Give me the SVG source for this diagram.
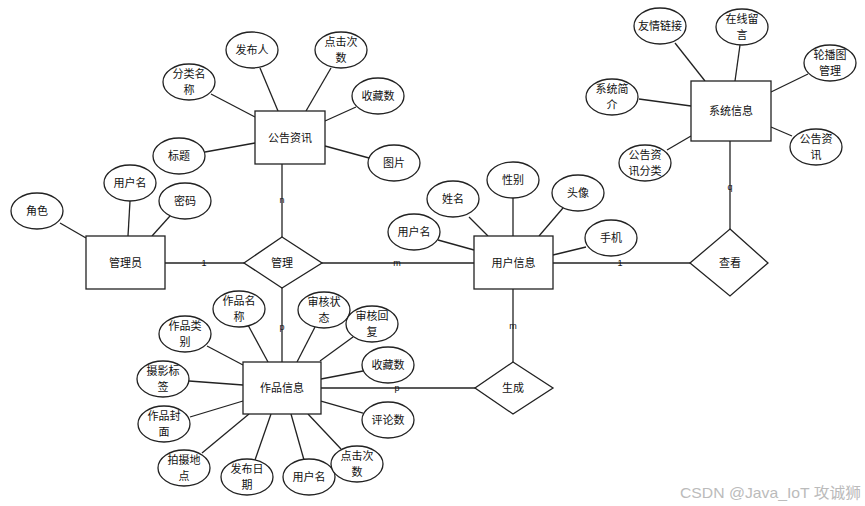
<svg xmlns="http://www.w3.org/2000/svg" width="865" height="506" viewBox="0 0 865 506">
<style>
.s{fill:#fff;stroke:#222;stroke-width:1.3}
.l{stroke:#222;stroke-width:1.3;fill:none}
text{font-family:"Liberation Sans","Noto Sans CJK SC",sans-serif;font-size:11px;fill:#111;text-anchor:middle;dominant-baseline:central}
.c{font-size:9px}
.w{font-size:15px;fill:#bbb;text-anchor:start}
</style>
<rect width="865" height="506" fill="#fff"/>
<g id="connectors">
<line class="l" x1="260" y1="68" x2="278" y2="111"/>
<line class="l" x1="331" y1="68" x2="306" y2="111"/>
<line class="l" x1="211" y1="94" x2="255" y2="117"/>
<line class="l" x1="356" y1="107" x2="325" y2="121"/>
<line class="l" x1="205" y1="152" x2="255" y2="143"/>
<line class="l" x1="325" y1="146" x2="369" y2="158"/>
<line class="l" x1="282" y1="164" x2="282" y2="238"/>
<line class="l" x1="60" y1="223" x2="86" y2="238"/>
<line class="l" x1="130" y1="201" x2="128" y2="236"/>
<line class="l" x1="170" y1="216" x2="152" y2="236"/>
<line class="l" x1="165" y1="263" x2="244" y2="263"/>
<line class="l" x1="322" y1="263" x2="474" y2="263"/>
<line class="l" x1="282" y1="288" x2="282" y2="362"/>
<line class="l" x1="248" y1="325" x2="268" y2="362"/>
<line class="l" x1="315" y1="327" x2="297" y2="362"/>
<line class="l" x1="353" y1="337" x2="320" y2="361"/>
<line class="l" x1="207" y1="346" x2="243" y2="365"/>
<line class="l" x1="363" y1="371" x2="321" y2="379"/>
<line class="l" x1="189" y1="381" x2="243" y2="385"/>
<line class="l" x1="363" y1="413" x2="321" y2="401"/>
<line class="l" x1="190" y1="417" x2="243" y2="401"/>
<line class="l" x1="202" y1="453" x2="249" y2="414"/>
<line class="l" x1="255" y1="460" x2="271" y2="414"/>
<line class="l" x1="304" y1="460" x2="291" y2="414"/>
<line class="l" x1="341" y1="449" x2="308" y2="414"/>
<line class="l" x1="321" y1="388" x2="475" y2="388"/>
<line class="l" x1="469" y1="217" x2="488" y2="236"/>
<line class="l" x1="513" y1="198" x2="513" y2="236"/>
<line class="l" x1="563" y1="208" x2="539" y2="236"/>
<line class="l" x1="438" y1="240" x2="474" y2="250"/>
<line class="l" x1="586" y1="247" x2="553" y2="255"/>
<line class="l" x1="553" y1="263" x2="690" y2="263"/>
<line class="l" x1="513" y1="289" x2="513" y2="362"/>
<line class="l" x1="675" y1="43" x2="705" y2="81"/>
<line class="l" x1="740" y1="45" x2="735" y2="81"/>
<line class="l" x1="808" y1="74" x2="771" y2="92"/>
<line class="l" x1="639" y1="99" x2="691" y2="106"/>
<line class="l" x1="792" y1="136" x2="771" y2="127"/>
<line class="l" x1="667" y1="150" x2="691" y2="136"/>
<line class="l" x1="730" y1="141" x2="730" y2="229"/>
<text class="c" x="282" y="200">n</text>
<text class="c" x="204" y="263">1</text>
<text class="c" x="397" y="263">m</text>
<text class="c" x="282" y="327">p</text>
<text class="c" x="397" y="388">p</text>
<text class="c" x="620" y="263">1</text>
<text class="c" x="513" y="326">m</text>
<text class="c" x="730" y="187">q</text>
</g>
<g id="gonggao"><rect class="s" x="255" y="111" width="70" height="53"/><text x="290" y="137.5">公告资讯</text></g>
<g id="g_fabuiren"><ellipse class="s" cx="252" cy="50" rx="26" ry="18"/><text x="252" y="50">发布人</text></g>
<g id="g_djcs"><ellipse class="s" cx="341" cy="50" rx="26" ry="18"/><text x="341" y="42">点击次</text><text x="341" y="58">数</text></g>
<g id="g_flmc"><ellipse class="s" cx="189" cy="82" rx="26" ry="18"/><text x="189" y="74">分类名</text><text x="189" y="90">称</text></g>
<g id="g_scs"><ellipse class="s" cx="378" cy="96" rx="26" ry="18"/><text x="378" y="96">收藏数</text></g>
<g id="g_bt"><ellipse class="s" cx="179" cy="156" rx="26" ry="18"/><text x="179" y="156">标题</text></g>
<g id="g_tp"><ellipse class="s" cx="394" cy="163" rx="26" ry="18"/><text x="394" y="163">图片</text></g>
<g id="admin"><rect class="s" x="86" y="236" width="79" height="53"/><text x="125.5" y="262.5">管理员</text></g>
<g id="a_yhm"><ellipse class="s" cx="130" cy="183" rx="26" ry="18"/><text x="130" y="183">用户名</text></g>
<g id="a_mm"><ellipse class="s" cx="185" cy="201" rx="26" ry="18"/><text x="185" y="201">密码</text></g>
<g id="a_js"><ellipse class="s" cx="37" cy="211" rx="26" ry="18"/><text x="37" y="211">角色</text></g>
<g id="guanli"><polygon class="s" points="282,237 322,263 282,288 244,263"/><text x="282" y="263">管理</text></g>
<g id="zuopin"><rect class="s" x="243" y="362" width="78" height="52"/><text x="282" y="388">作品信息</text></g>
<g id="z_zpmc"><ellipse class="s" cx="239" cy="309" rx="26" ry="18"/><text x="239" y="301">作品名</text><text x="239" y="317">称</text></g>
<g id="z_shzt"><ellipse class="s" cx="324" cy="310" rx="26" ry="18"/><text x="324" y="302">审核状</text><text x="324" y="318">态</text></g>
<g id="z_shhf"><ellipse class="s" cx="372" cy="324" rx="26" ry="18"/><text x="372" y="316">审核回</text><text x="372" y="332">复</text></g>
<g id="z_zplb"><ellipse class="s" cx="185" cy="334" rx="26" ry="18"/><text x="185" y="326">作品类</text><text x="185" y="342">别</text></g>
<g id="z_scs"><ellipse class="s" cx="388" cy="365" rx="26" ry="18"/><text x="388" y="365">收藏数</text></g>
<g id="z_sybq"><ellipse class="s" cx="163" cy="379" rx="26" ry="18"/><text x="163" y="371">摄影标</text><text x="163" y="387">签</text></g>
<g id="z_pls"><ellipse class="s" cx="388" cy="420" rx="26" ry="18"/><text x="388" y="420">评论数</text></g>
<g id="z_zpfm"><ellipse class="s" cx="164" cy="424" rx="26" ry="18"/><text x="164" y="416">作品封</text><text x="164" y="432">面</text></g>
<g id="z_psdd"><ellipse class="s" cx="184" cy="468" rx="26" ry="18"/><text x="184" y="460">拍摄地</text><text x="184" y="476">点</text></g>
<g id="z_fbrq"><ellipse class="s" cx="247" cy="477" rx="26" ry="18"/><text x="247" y="469">发布日</text><text x="247" y="485">期</text></g>
<g id="z_yhm"><ellipse class="s" cx="309" cy="477" rx="26" ry="18"/><text x="309" y="477">用户名</text></g>
<g id="z_djcs"><ellipse class="s" cx="357" cy="464" rx="26" ry="18"/><text x="357" y="456">点击次</text><text x="357" y="472">数</text></g>
<g id="shengcheng"><polygon class="s" points="513,362 553,388 513,414 475,388"/><text x="513" y="388">生成</text></g>
<g id="yonghu"><rect class="s" x="474" y="236" width="79" height="53"/><text x="513.5" y="262.5">用户信息</text></g>
<g id="u_xm"><ellipse class="s" cx="453" cy="199" rx="26" ry="18"/><text x="453" y="199">姓名</text></g>
<g id="u_xb"><ellipse class="s" cx="513" cy="180" rx="26" ry="18"/><text x="513" y="180">性别</text></g>
<g id="u_tx"><ellipse class="s" cx="578" cy="193" rx="26" ry="18"/><text x="578" y="193">头像</text></g>
<g id="u_yhm"><ellipse class="s" cx="414" cy="232" rx="26" ry="18"/><text x="414" y="232">用户名</text></g>
<g id="u_sj"><ellipse class="s" cx="611" cy="238" rx="26" ry="18"/><text x="611" y="238">手机</text></g>
<g id="chakan"><polygon class="s" points="730,229 768,263 730,296 690,263"/><text x="730" y="263">查看</text></g>
<g id="xitong"><rect class="s" x="691" y="81" width="80" height="60"/><text x="731" y="111">系统信息</text></g>
<g id="x_yqlj"><ellipse class="s" cx="660" cy="26" rx="26" ry="18"/><text x="660" y="26">友情链接</text></g>
<g id="x_zxly"><ellipse class="s" cx="742" cy="27" rx="26" ry="18"/><text x="742" y="19">在线留</text><text x="742" y="35">言</text></g>
<g id="x_lbt"><ellipse class="s" cx="830" cy="63" rx="26" ry="18"/><text x="830" y="55">轮播图</text><text x="830" y="71">管理</text></g>
<g id="x_xtjj"><ellipse class="s" cx="612" cy="97" rx="26" ry="18"/><text x="612" y="89">系统简</text><text x="612" y="105">介</text></g>
<g id="x_ggzx"><ellipse class="s" cx="816" cy="147" rx="26" ry="18"/><text x="816" y="139">公告资</text><text x="816" y="155">讯</text></g>
<g id="x_ggzxfl"><ellipse class="s" cx="645" cy="163" rx="26" ry="18"/><text x="645" y="155">公告资</text><text x="645" y="171">讯分类</text></g>
<text class="w" x="680" y="492" textLength="181" lengthAdjust="spacingAndGlyphs">CSDN @Java_IoT 攻诚狮</text>
</svg>
